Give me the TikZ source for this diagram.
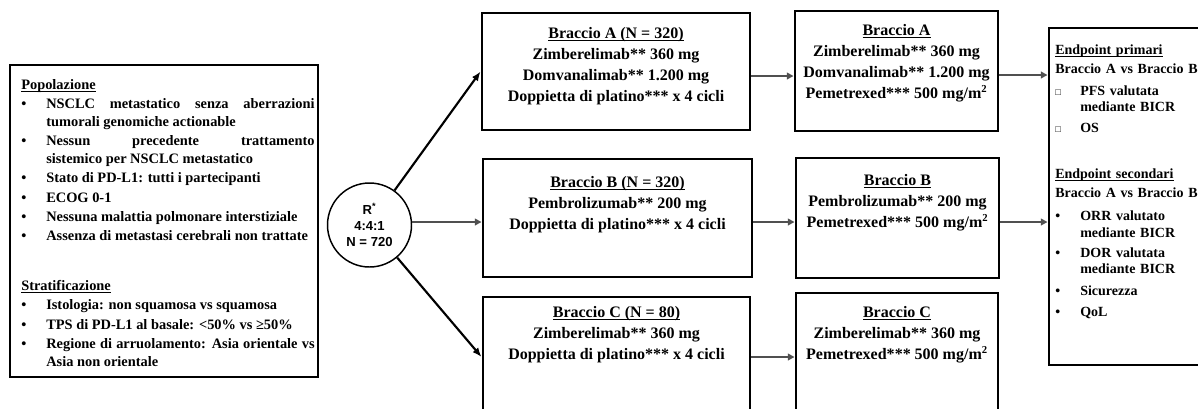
\documentclass[tikz,border=0pt]{standalone}
\usepackage{fontspec}
\setmainfont{Liberation Serif}
\setsansfont{Liberation Sans}
\usetikzlibrary{arrows.meta, positioning}
\definecolor{arrowgray}{RGB}{80,80,80}
\newcommand{\listitem}[2][1.5pt]{\par\vskip#1\noindent\hangindent=18.75pt\hangafter=1\makebox[18.75pt][l]{#2}}
\newcommand{\headline}[1]{\leavevmode\setbox0\hbox{#1}\rlap{\rule[-1.7pt]{\wd0}{0.7pt}}\box0}

\begin{document}
\begin{tikzpicture}[x=0.75pt, y=-0.75pt,
    box/.style={draw, line width=2.2pt, inner sep=0pt},
    armtext/.style={anchor=north, align=center, inner sep=0pt, font=\bfseries\fontsize{12}{15.75}\selectfont},
    listtext/.style={anchor=north west, inner sep=0pt, text width=#1},
    blackarrow/.style={-{Latex[length=7pt,width=5.5pt]}, line width=1.6pt},
    grayarrow/.style={-{Triangle[length=5pt,width=5pt]}, line width=2pt, draw=arrowgray, fill=arrowgray}]
    \useasboundingbox (0,0) rectangle (1198,408);
    \clip (0,0) rectangle (1198,408);

    \node[box, minimum width=231pt, minimum height=234pt] (pop) at (164,221) {};
    \node[listtext=220pt, align=justify, font=\bfseries\fontsize{10.8}{13.1}\selectfont] (poptxt) at (21,79) {%
        \noindent\headline{Popolazione}
        \listitem{\textbullet}NSCLC metastatico senza aberrazioni\linebreak tumorali genomiche actionable
        \listitem{\textbullet}Nessun precedente trattamento\linebreak sistemico per NSCLC metastatico
        \listitem{\textbullet}Stato di PD-L1: tutti i partecipanti
        \listitem{\textbullet}ECOG 0-1
        \listitem{\textbullet}Nessuna malattia polmonare interstiziale
        \listitem{\textbullet}Assenza di metastasi cerebrali non trattate
        \par\vskip 24pt\noindent\headline{Stratificazione}
        \listitem{\textbullet}Istologia: non squamosa vs squamosa
        \listitem{\textbullet}TPS di PD-L1 al basale: <50\% vs ≥50\%
        \listitem{\textbullet}Regione di arruolamento: Asia orientale vs\linebreak Asia non orientale\par};

    \node[draw, circle, line width=1.1pt, minimum size=63pt, inner sep=0pt, align=center,
        font=\sffamily\bfseries\fontsize{9.8}{12}\selectfont] (rz) at (369.5,225) {R\textsuperscript{*}\\4:4:1\\N = 720};

    \node[box, minimum width=201pt, minimum height=87.75pt] (a1) at (616,71.5) {};
    \node[armtext] (a1t) at (616,27) {\headline{Braccio A (N = 320)}\\Zimberelimab** 360 mg\\Domvanalimab** 1.200 mg\\Doppietta di platino*** x 4 cicli};

    \node[box, minimum width=201.75pt, minimum height=88.5pt] (b1) at (617.5,218) {};
    \node[armtext] (b1t) at (617.5,176) {\headline{Braccio B (N = 320)}\\Pembrolizumab** 200 mg\\Doppietta di platino*** x 4 cicli};

    \node[box, minimum width=200.25pt, minimum height=90pt] (c1) at (616.5,357) {};
    \node[armtext] (c1t) at (616.5,306) {\headline{Braccio C (N = 80)}\\Zimberelimab** 360 mg\\Doppietta di platino*** x 4 cicli};

    \node[box, minimum width=152.25pt, minimum height=90pt] (a2) at (896.5,71) {};
    \node[armtext] (a2t) at (896.5,24) {\headline{Braccio A}\\Zimberelimab** 360 mg\\Domvanalimab** 1.200 mg\\Pemetrexed*** 500 mg/m\textsuperscript{2}};

    \node[box, minimum width=152.25pt, minimum height=90pt] (b2) at (897.5,218) {};
    \node[armtext] (b2t) at (897.5,174) {\headline{Braccio B}\\Pembrolizumab** 200 mg\\Pemetrexed*** 500 mg/m\textsuperscript{2}};

    \node[box, minimum width=151.5pt, minimum height=96pt] (c2) at (897,357) {};
    \node[armtext] (c2t) at (897,306) {\headline{Braccio C}\\Zimberelimab** 360 mg\\Pemetrexed*** 500 mg/m\textsuperscript{2}};

    \node[box, minimum width=124.5pt, minimum height=252.75pt] (ep) at (1132,196.5) {};
    \node[listtext=200pt, align=left, font=\bfseries\fontsize{10.5}{12.2}\selectfont] (eptxt) at (1055,45) {%
        \noindent\headline{Endpoint primari}\par\vskip 2pt\noindent Braccio A vs Braccio B
        \listitem[4pt]{\fontsize{7}{7}\selectfont □}PFS valutata\newline mediante BICR
        \listitem[3pt]{\fontsize{7}{7}\selectfont □}OS
        \par\vskip 23pt\noindent\headline{Endpoint secondari}\par\vskip 2pt\noindent Braccio A vs Braccio B
        \listitem[5pt]{\textbullet}ORR valutato\newline mediante BICR
        \listitem[3pt]{\textbullet}DOR valutata\newline mediante BICR
        \listitem[4pt]{\textbullet}Sicurezza
        \listitem[4pt]{\textbullet}QoL\par};

    \coordinate (ka) at ([yshift=-3.375pt]a1.east);
    \coordinate (kb) at ([yshift=-3pt]b1.east);
    \coordinate (kr) at ([yshift=2.25pt]rz.east);
    \coordinate (ea) at ([yshift=-3pt]a2.east);
    \coordinate (eb) at ([yshift=-3pt]b2.east);

    \draw[blackarrow] (rz) -- (a1.west);
    \draw[grayarrow] (kr) -- (kr -| b1.west);
    \draw[blackarrow] (rz) -- (c1.west);
    \draw[grayarrow] (ka) -- (ka -| a2.west);
    \draw[grayarrow] (kb) -- (kb -| b2.west);
    \draw[grayarrow] (c1.east) -- (c2.west);
    \draw[grayarrow] (ea) -- (ea -| ep.west);
    \draw[grayarrow] (eb) -- (eb -| ep.west);
\end{tikzpicture}
\end{document}
